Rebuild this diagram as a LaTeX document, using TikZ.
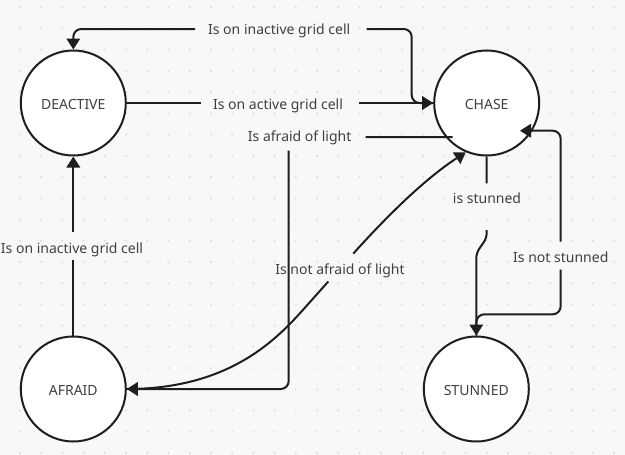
\documentclass[tikz,border=0pt]{standalone}
\usepackage{fontspec}
\setmainfont{Noto Sans}
\usetikzlibrary{arrows.meta}
\definecolor{bg}{RGB}{248,248,250}
\definecolor{dotc}{RGB}{218,218,224}
\definecolor{ink}{RGB}{30,30,30}
\definecolor{txt}{RGB}{64,64,64}
\begin{document}
\begin{tikzpicture}[x=1pt,y=-1pt,
  state/.style={circle, draw=ink, line width=2pt, fill=white, minimum size=105pt, inner sep=0pt, text height=13pt, text depth=0pt, font=\fontsize{14}{16}\selectfont, text=txt},
  edge/.style={draw=ink, line width=2pt, rounded corners=8pt},
  arr/.style={-{Triangle[length=11pt,width=13.5pt]}},
  lbl/.style={font=\fontsize{14}{16}\selectfont, text=txt, inner sep=0pt, anchor=base}]
\useasboundingbox (0,0) rectangle (625,455);
\fill[bg] (0,0) rectangle (625,455);
\foreach \i in {0,...,28} \foreach \j in {0,...,21} \fill[dotc] (20+\i*21.22, 7.3+\j*21.22) circle (1.1pt);
% states
\node[state] (deactive) at (73.3,103) {DEACTIVE};
\node[state] (chase) at (486.7,103) {CHASE};
\node[state] (afraid) at (73.3,389) {AFRAID};
\node[state] (stunned) at (476.3,389) {STUNNED};
\coordinate (s3) at (452.7,137);
\coordinate (e5) at (520,130.7);
% Is on inactive grid cell (top)
\draw[edge,arr] (chase.west) -- (411.7,103) -- (411.7,29) -- (366.7,29) (195,29) -- (73.3,29) -- (deactive.north);
\node[lbl] (l1) at (279.2,34.3) {Is on inactive grid cell};
% Is on active grid cell
\draw[edge,arr] (deactive.east) -- (201,103) (359.3,103) -- (chase.west);
\node[lbl] (l2) at (278,109) {Is on active grid cell};
% Is afraid of light
\draw[edge,arr] (s3) -- (365.7,137) (288.7,150.7) -- (288.7,389) -- (afraid.east);
\node[lbl] (l3) at (299.7,141.9) {Is afraid of light};
% is stunned
\draw[edge,arr,rounded corners=5pt] (chase.south) -- (486.7,183.3) (486.7,230) -- (486.7,238) -- (476.3,253) -- (stunned.north);
\node[lbl] (l4) at (487,203) {is stunned};
% Is not stunned
\draw[edge,arr] (stunned.north) -- (476.3,314.3) -- (560.7,314.3) -- (560.7,269.5) (560.7,241.7) -- (560.7,130.7) -- (e5);
\node[lbl] (l5) at (560.8,262.5) {Is not stunned};
% Is not afraid of light
\draw[edge,arr,sharp corners] (afraid.east) .. controls (237,389) and (283.3,331.8) .. (310,302) -- (328.3,281.5) (353.3,253.6) .. controls (386.7,216.4) and (424.8,178.9) .. (chase.247.5);
\node[lbl] (l6) at (340,274.3) {Is not afraid of light};
% Is on inactive grid cell (left)
\draw[edge,arr] (afraid.north) -- (73.3,260) (73.3,231.7) -- (deactive.south);
\node[lbl] (l7) at (72,253) {Is on inactive grid cell};
\end{tikzpicture}
\end{document}
